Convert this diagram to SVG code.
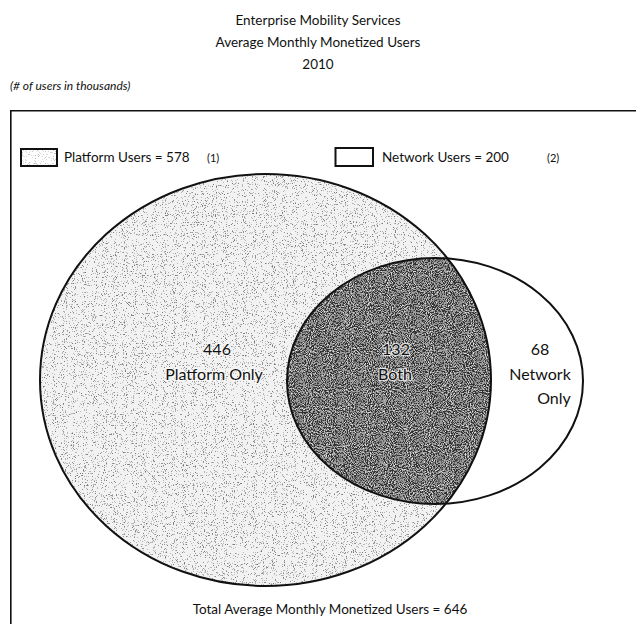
<svg xmlns="http://www.w3.org/2000/svg" width="636" height="624" viewBox="0 0 636 624">
<style>
text{font-family:Lato,"Open Sans","Liberation Sans",sans-serif;fill:#111}
.t{font-size:13.5px;text-anchor:middle}
.lbl{font-size:16px;text-anchor:middle}
.halo{stroke:#fff;stroke-opacity:0.75;stroke-width:2.5px;paint-order:stroke;stroke-linejoin:round}
.leg{font-size:13.5px}
.note{font-size:11px}
.frame{fill:none;stroke:#111;stroke-width:1.6}
.edge{fill:none;stroke:#111;stroke-width:2}
</style>
<defs>
<filter id="stipLight" x="0" y="0" width="100%" height="100%" filterUnits="userSpaceOnUse">
<feTurbulence type="fractalNoise" baseFrequency="0.9" numOctaves="2" seed="4" result="n"/>
<feColorMatrix in="n" type="matrix" values="0 0 0 0 0  0 0 0 0 0  0 0 0 0 0  1 0 0 0 0" result="a"/>
<feComponentTransfer in="a" result="d"><feFuncA type="discrete" tableValues="0 0 0 0 0 0 0 0 0 0 0.5 0.8 1 1 1 1"/></feComponentTransfer>
<feFlood flood-color="#7a7a7a" result="c"/>
<feComposite in="c" in2="d" operator="in"/>
</filter>
<filter id="stipDark" x="0" y="0" width="100%" height="100%" filterUnits="userSpaceOnUse">
<feTurbulence type="fractalNoise" baseFrequency="0.95" numOctaves="2" seed="9" result="n"/>
<feColorMatrix in="n" type="matrix" values="0 0 0 0 0  0 0 0 0 0  0 0 0 0 0  1 0 0 0 0" result="a"/>
<feComponentTransfer in="a" result="d"><feFuncA type="discrete" tableValues="0 0 0 0 0 0 0 0 0.5 1 1 1 1 1 1 1"/></feComponentTransfer>
<feFlood flood-color="#333" result="c"/>
<feComposite in="c" in2="d" operator="in" result="blk"/>
<feComponentTransfer in="a" result="w"><feFuncA type="discrete" tableValues="1 1 1 1 0.8 0.3 0 0 0 0 0 0 0 0 0 0"/></feComponentTransfer>
<feFlood flood-color="#e4e4e4" result="c2"/>
<feComposite in="c2" in2="w" operator="in" result="wht"/>
<feMerge><feMergeNode in="blk"/><feMergeNode in="wht"/></feMerge>
</filter>
<clipPath id="bigClip"><ellipse cx="265.5" cy="380" rx="225.5" ry="206"/></clipPath>
<clipPath id="smallClip"><ellipse cx="435" cy="381" rx="148" ry="123"/></clipPath>
<clipPath id="legClip"><rect x="21" y="149" width="36" height="17"/></clipPath>
</defs>
<rect width="636" height="624" fill="#fff"/>
<g id="title">
<text class="t" x="318" y="25">Enterprise Mobility Services</text>
<text class="t" x="318" y="47">Average Monthly Monetized Users</text>
<text class="t" x="318" y="69">2010</text>
<text x="10" y="90" font-size="12" font-style="italic" font-family="'Liberation Sans',sans-serif">(# of users in thousands)</text>
</g>
<path class="frame" d="M636,110.8 H10.8 V624"/>
<g id="legend">
<g id="legend-platform">
<rect x="21" y="149" width="36" height="17" fill="#fff"/>
<rect x="21" y="149" width="36" height="17" filter="url(#stipLight)" clip-path="url(#legClip)" fill="#000" opacity="0.5"/>
<rect x="21" y="149" width="36" height="17" fill="none" stroke="#111" stroke-width="2"/>
<text class="leg" x="64" y="162">Platform Users = 578</text>
<text class="note" x="207" y="162">(1)</text>
</g>
<g id="legend-network">
<rect x="335.5" y="148" width="37.5" height="18" fill="#fff" stroke="#111" stroke-width="2"/>
<text class="leg" x="382" y="162">Network Users = 200</text>
<text class="note" x="547" y="162">(2)</text>
</g>
</g>
<g id="platform">
<ellipse cx="265.5" cy="380" rx="225.5" ry="206" fill="#f2f2f2"/>
<rect x="40" y="174" width="452" height="412" fill="#000" filter="url(#stipLight)" clip-path="url(#bigClip)"/>
</g>
<g id="both">
<g clip-path="url(#bigClip)">
<rect x="287" y="258" width="300" height="250" fill="#999" clip-path="url(#smallClip)"/>
</g>
<g clip-path="url(#bigClip)">
<rect x="287" y="258" width="300" height="250" fill="#000" filter="url(#stipDark)" clip-path="url(#smallClip)"/>
</g>
</g>
<g id="network">
<ellipse class="edge" cx="435" cy="381" rx="148" ry="123"/>
</g>
<ellipse class="edge" cx="265.5" cy="380" rx="225.5" ry="206"/>
<g id="labels">
<text class="lbl halo" x="217" y="355">446</text>
<text class="lbl halo" x="214" y="380">Platform Only</text>
<text class="lbl halo" x="396" y="355">132</text>
<text class="lbl halo" x="395" y="380">Both</text>
<text class="lbl" x="540" y="355">68</text>
<text class="lbl" x="540" y="380">Network</text>
<text class="lbl" x="554" y="404">Only</text>
</g>
<text class="leg" x="330" y="614" text-anchor="middle">Total Average Monthly Monetized Users = 646</text>
</svg>
